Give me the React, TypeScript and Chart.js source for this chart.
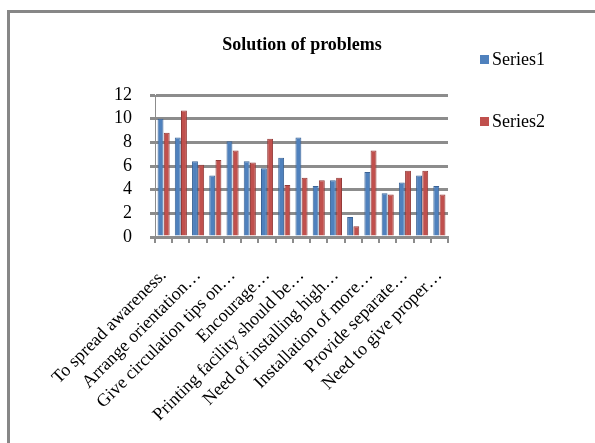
import React, { useEffect, useRef } from "react";
import { Chart, registerables } from "chart.js";

Chart.register(...registerables);

const chartTitle = "Solution of problems";
const categories = [
  "To spread awareness.",
  "",
  "Arrange orientation…",
  "",
  "Give circulation tips on…",
  "",
  "Encourage…",
  "",
  "Printing facility should be…",
  "",
  "Need of installing high…",
  "",
  "Installation of more…",
  "",
  "Provide separate…",
  "",
  "Need to give proper…",
];
const series1Name = "Series1";
const series2Name = "Series2";
const series1 = [10, 8.4, 6.4, 5.2, 8.1, 6.4, 5.8, 6.7, 8.4, 4.3, 4.8, 1.7, 5.5, 3.7, 4.6, 5.2, 4.3];
const series2 = [8.8, 10.7, 6.1, 6.5, 7.3, 6.3, 8.3, 4.4, 5.0, 4.8, 5.0, 0.9, 7.3, 3.6, 5.6, 5.6, 3.6];
const yTicks = [0, 2, 4, 6, 8, 10, 12];

const FONT = "'Liberation Serif', 'Times New Roman', serif";

const overlay = {
  id: "overlay",
  afterDraw(chart: any) {
    const ctx = chart.ctx;
    ctx.save();
    ctx.fillStyle = "#000";
    ctx.font = `bold 18px ${FONT}`;
    ctx.textAlign = "center";
    ctx.textBaseline = "middle";
    ctx.fillText(chartTitle, 302, 45);
    const ys = [60, 122];
    chart.data.datasets.forEach((ds: any, i: number) => {
      ctx.fillStyle = ds.backgroundColor;
      ctx.fillRect(480, ys[i] - 5, 9, 9);
      ctx.fillStyle = "#000";
      ctx.font = `18px ${FONT}`;
      ctx.textAlign = "left";
      ctx.fillText(ds.label, 492, ys[i]);
    });
    ctx.restore();
  },
};

export default function App() {
  const ref = useRef<HTMLCanvasElement>(null);
  useEffect(() => {
    if (!ref.current) return;
    const chart = new Chart(ref.current, {
      type: "bar",
      data: {
        labels: categories,
        datasets: [
          {
            label: series1Name,
            data: series1,
            backgroundColor: "#4F81BD",
            borderColor: "#3A6396",
            borderWidth: 1,
            borderSkipped: "bottom",
            categoryPercentage: 0.72,
            barPercentage: 0.95,
          },
          {
            label: series2Name,
            data: series2,
            backgroundColor: "#C0504D",
            borderColor: "#933B39",
            borderWidth: 1,
            borderSkipped: "bottom",
            categoryPercentage: 0.72,
            barPercentage: 0.95,
          },
        ],
      },
      options: {
        responsive: false,
        animation: false,
        layout: { padding: { left: 0, right: 147, top: 95, bottom: 0 } },
        plugins: {
          legend: { display: false },
          title: { display: false },
          tooltip: { enabled: false },
        },
        scales: {
          x: {
            offset: true,
            grid: {
              display: true,
              offset: true,
              drawOnChartArea: false,
              drawTicks: true,
              tickLength: 6,
              color: "#8c8c8c",
              lineWidth: 2,
            },
            border: { color: "#8c8c8c", width: 3 },
            ticks: {
              autoSkip: false,
              maxRotation: 45,
              minRotation: 45,
              padding: 22,
              color: "#000",
              font: { family: FONT, size: 18 },
            },
            afterFit: (s: any) => {
              s.height = 443 - 237;
            },
          },
          y: {
            min: 0,
            max: 12,
            afterBuildTicks: (s: any) => {
              s.ticks = yTicks.map((v) => ({ value: v }));
            },
            ticks: {
              autoSkip: false,
              padding: 18,
              color: "#000",
              font: { family: FONT, size: 18 },
            },
            grid: { color: "#8c8c8c", lineWidth: 3, tickLength: 5 },
            border: { color: "#8c8c8c", width: 1 },
            afterFit: (s: any) => {
              s.width = 155;
            },
          },
        },
      },
      plugins: [overlay],
    });
    return () => chart.destroy();
  }, []);
  return (
    <div style={{ position: "fixed", left: 0, top: 0, width: 595, height: 443, background: "#fff" }}>
      <canvas ref={ref} width={595} height={443} style={{ position: "absolute", left: 0, top: 0 }} />
      <div
        style={{
          position: "absolute",
          left: 7,
          top: 10,
          width: 595 - 7,
          height: 443 - 10,
          borderTop: "3px solid #878787",
          borderLeft: "3px solid #878787",
          boxSizing: "border-box",
          pointerEvents: "none",
        }}
      />
    </div>
  );
}
